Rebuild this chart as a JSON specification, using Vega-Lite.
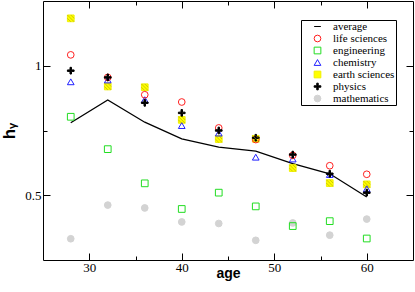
{
  "$schema": "https://vega.github.io/schema/vega-lite/v6.json",
  "width": 370,
  "height": 259,
  "autosize": "none",
  "padding": {"left": 43, "top": 1, "right": 2, "bottom": 32},
  "background": "white",
  "config": {
    "view": {"stroke": "black", "strokeWidth": 1},
    "axis": {"grid": false, "domain": false, "tickColor": "black", "labelColor": "black", "labelFont": "'Liberation Serif', serif", "labelFontSize": 13},
    "legend": {"labelFont": "'Liberation Serif', serif"}
  },
  "data": {"values": [
    {"age": 28, "series": "average", "hy": 0.78},
    {"age": 32, "series": "average", "hy": 0.868},
    {"age": 36, "series": "average", "hy": 0.782},
    {"age": 40, "series": "average", "hy": 0.718},
    {"age": 44, "series": "average", "hy": 0.686},
    {"age": 48, "series": "average", "hy": 0.670},
    {"age": 52, "series": "average", "hy": 0.622},
    {"age": 56, "series": "average", "hy": 0.583},
    {"age": 60, "series": "average", "hy": 0.493},
    {"age": 28, "series": "mathematics", "hy": 0.332},
    {"age": 32, "series": "mathematics", "hy": 0.462},
    {"age": 36, "series": "mathematics", "hy": 0.451},
    {"age": 40, "series": "mathematics", "hy": 0.397},
    {"age": 44, "series": "mathematics", "hy": 0.391},
    {"age": 48, "series": "mathematics", "hy": 0.326},
    {"age": 52, "series": "mathematics", "hy": 0.393},
    {"age": 56, "series": "mathematics", "hy": 0.346},
    {"age": 60, "series": "mathematics", "hy": 0.408},
    {"age": 28, "series": "engineering", "hy": 0.803},
    {"age": 32, "series": "engineering", "hy": 0.678},
    {"age": 36, "series": "engineering", "hy": 0.546},
    {"age": 40, "series": "engineering", "hy": 0.447},
    {"age": 44, "series": "engineering", "hy": 0.510},
    {"age": 48, "series": "engineering", "hy": 0.457},
    {"age": 52, "series": "engineering", "hy": 0.381},
    {"age": 56, "series": "engineering", "hy": 0.400},
    {"age": 60, "series": "engineering", "hy": 0.333},
    {"age": 28, "series": "earth sciences", "hy": 1.183},
    {"age": 32, "series": "earth sciences", "hy": 0.920},
    {"age": 36, "series": "earth sciences", "hy": 0.917},
    {"age": 40, "series": "earth sciences", "hy": 0.791},
    {"age": 44, "series": "earth sciences", "hy": 0.717},
    {"age": 48, "series": "earth sciences", "hy": 0.718},
    {"age": 52, "series": "earth sciences", "hy": 0.605},
    {"age": 56, "series": "earth sciences", "hy": 0.547},
    {"age": 60, "series": "earth sciences", "hy": 0.542},
    {"age": 28, "series": "chemistry", "hy": 0.938},
    {"age": 32, "series": "chemistry", "hy": 0.945},
    {"age": 36, "series": "chemistry", "hy": 0.869},
    {"age": 40, "series": "chemistry", "hy": 0.769},
    {"age": 44, "series": "chemistry", "hy": 0.740},
    {"age": 48, "series": "chemistry", "hy": 0.647},
    {"age": 52, "series": "chemistry", "hy": 0.640},
    {"age": 56, "series": "chemistry", "hy": 0.580},
    {"age": 60, "series": "chemistry", "hy": 0.525},
    {"age": 28, "series": "life sciences", "hy": 1.042},
    {"age": 32, "series": "life sciences", "hy": 0.955},
    {"age": 36, "series": "life sciences", "hy": 0.888},
    {"age": 40, "series": "life sciences", "hy": 0.860},
    {"age": 44, "series": "life sciences", "hy": 0.760},
    {"age": 48, "series": "life sciences", "hy": 0.715},
    {"age": 52, "series": "life sciences", "hy": 0.654},
    {"age": 56, "series": "life sciences", "hy": 0.614},
    {"age": 60, "series": "life sciences", "hy": 0.581},
    {"age": 28, "series": "physics", "hy": 0.981},
    {"age": 32, "series": "physics", "hy": 0.955},
    {"age": 36, "series": "physics", "hy": 0.857},
    {"age": 40, "series": "physics", "hy": 0.818},
    {"age": 44, "series": "physics", "hy": 0.750},
    {"age": 48, "series": "physics", "hy": 0.722},
    {"age": 52, "series": "physics", "hy": 0.657},
    {"age": 56, "series": "physics", "hy": 0.583},
    {"age": 60, "series": "physics", "hy": 0.510}
  ]},
  "resolve": {"axis": {"x": "independent", "y": "independent"}},
  "layer": [
    {
      "transform": [{"filter": "datum.series === 'average'"}],
      "mark": {"type": "line", "stroke": "black", "strokeWidth": 1.3},
      "encoding": {
        "x": {"field": "age", "type": "quantitative", "scale": {"domain": [25, 65], "nice": false, "zero": false},
          "axis": {"orient": "bottom", "values": [30, 35, 40, 45, 50, 55, 60], "labelExpr": "datum.value % 10 === 0 ? datum.label : ''",
            "labelFont": "'Liberation Serif', serif",
            "tickSize": {"condition": {"test": "datum.value % 10 === 0", "value": -7}, "value": -4},
            "labelPadding": 8, "title": "age", "titleFont": "Liberation Sans", "titleFontWeight": "bold", "titleFontSize": 14, "titlePadding": -8}},
        "y": {"field": "hy", "type": "quantitative", "scale": {"domain": [0.25, 1.25], "nice": false, "zero": false},
          "axis": {"orient": "left", "values": [0.5, 0.75, 1], "labelExpr": "datum.value === 1 ? '1' : datum.value === 0.5 ? '0.5' : ''",
            "labelFont": "'Liberation Serif', serif",
            "tickSize": {"condition": {"test": "datum.value === 0.75", "value": -4}, "value": -7},
            "labelPadding": 9, "title": "hᵧ", "titleFont": "Liberation Sans", "titleFontWeight": "bold", "titleFontSize": 17, "titlePadding": 6}}
      }
    },
    {
      "transform": [{"filter": "datum.series !== 'average'"}],
      "mark": {"type": "point", "size": 45, "strokeWidth": 1, "opacity": 1},
      "encoding": {
        "x": {"field": "age", "type": "quantitative",
          "axis": {"orient": "top", "values": [30, 35, 40, 45, 50, 55, 60], "labels": false, "title": null,
            "tickSize": {"condition": {"test": "datum.value % 10 === 0", "value": -7}, "value": -4}}},
        "y": {"field": "hy", "type": "quantitative",
          "axis": {"orient": "right", "values": [0.5, 0.75, 1], "labels": false, "title": null,
            "tickSize": {"condition": {"test": "datum.value === 0.75", "value": -4}, "value": -7}}},
        "shape": {"field": "series", "type": "nominal",
          "scale": {"domain": ["average", "life sciences", "engineering", "chemistry", "earth sciences", "physics", "mathematics"],
            "range": ["stroke", "circle", "square", "triangle-up", "square", "M-1,-0.22H-0.22V-1H0.22V-0.22H1V0.22H0.22V1H-0.22V0.22H-1Z", "circle"]},
          "legend": {"title": null, "orient": "none", "legendX": 258, "legendY": 19, "padding": 1, "strokeColor": "black", "fillColor": "white",
            "labelFont": "'Liberation Serif', serif", "labelFontSize": 11, "labelColor": "black", "rowPadding": 0, "symbolSize": 45, "symbolStrokeWidth": 1, "symbolOffset": 10, "labelOffset": 10, "cornerRadius": 0}},
        "stroke": {"field": "series", "type": "nominal",
          "scale": {"domain": ["average", "life sciences", "engineering", "chemistry", "earth sciences", "physics", "mathematics"],
            "range": ["black", "#ff2020", "#22dd22", "#2020ff", "#f0f000", "black", "#d3d3d3"]}},
        "fill": {"field": "series", "type": "nominal",
          "scale": {"domain": ["average", "life sciences", "engineering", "chemistry", "earth sciences", "physics", "mathematics"],
            "range": ["transparent", "transparent", "transparent", "transparent", "#ffff00", "black", "#d3d3d3"]}}
      }
    },
    {
      "transform": [{"filter": "datum.series === 'earth sciences'"}],
      "mark": {"type": "point", "size": 45, "strokeWidth": 0.8, "filled": false, "shape": "M-1,-1L1,1M-1,0L0,1M0,-1L1,0", "stroke": "#a8a000"},
      "encoding": {
        "x": {"field": "age", "type": "quantitative", "axis": null},
        "y": {"field": "hy", "type": "quantitative", "axis": null}
      }
    }
  ]
}
